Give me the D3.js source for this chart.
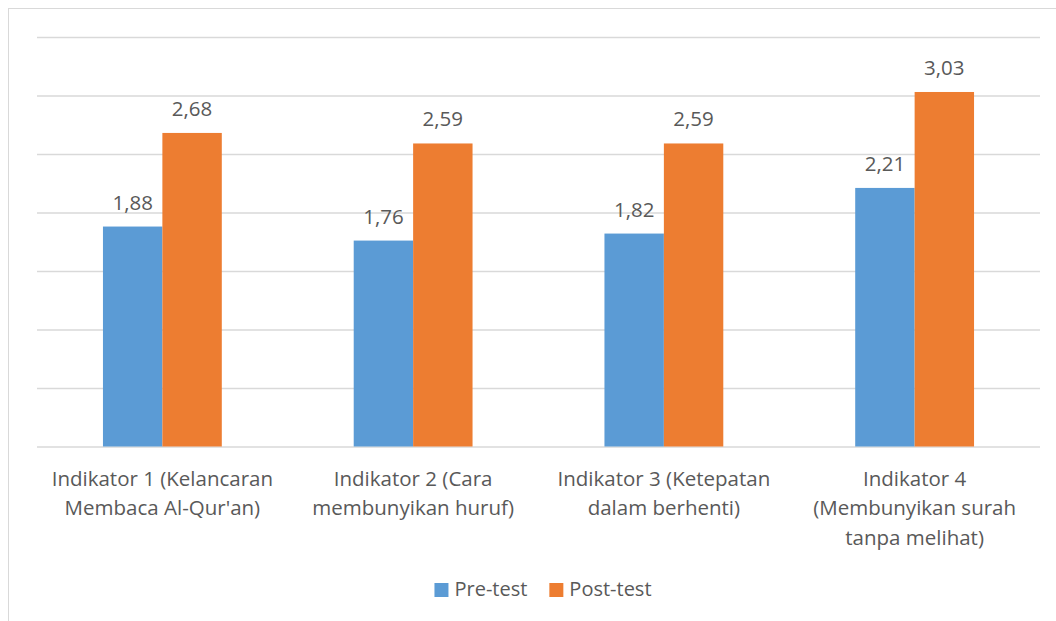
<!DOCTYPE html>
<html>
<head>
	<meta charset="utf-8">
	<title>Pre-test vs Post-test</title>
</head>

<style>
	body { margin:0; background:#fff; }
	svg text { font-family:"Open Sans", sans-serif; fill:#595959; }
</style>

<body>
<script src="https://d3js.org/d3.v7.min.js" charset="utf-8"></script>
<svg width="1056" height="621"></svg>
<script>

	// data
	var categories = ["Indikator 1", "Indikator 2", "Indikator 3", "Indikator 4"];
	var categoryLines = [
		["Indikator 1 (Kelancaran", "Membaca Al-Qur'an)"],
		["Indikator 2 (Cara", "membunyikan huruf)"],
		["Indikator 3 (Ketepatan", "dalam berhenti)"],
		["Indikator 4", "(Membunyikan surah", "tanpa melihat)"]
	];
	var seriesNames = ["Pre-test", "Post-test"];
	var preTest = [1.88, 1.76, 1.82, 2.21];
	var postTest = [2.68, 2.59, 2.59, 3.03];
	var yTicks = [0, 0.5, 1, 1.5, 2, 2.5, 3, 3.5];

	var colors = ["#5B9BD5", "#ED7D31"];
	var fmt = function(v){ return d3.format(".2f")(v).replace(".", ","); };

	var svg = d3.select("svg");
	var margin = {top:37, left:37, right:16, bottom:174.5};
	var width = +svg.attr("width") - margin.left - margin.right;
	var height = +svg.attr("height") - margin.top - margin.bottom;

	// chart area border
	svg.append("rect")
	   .attr("x", 8.5).attr("y", 8.5)
	   .attr("width", 1100).attr("height", 700)
	   .attr("fill", "none")
	   .attr("stroke", "#D9D9D9");

	var g = svg.append("g")
			   .attr("transform", "translate(" + margin.left + "," + margin.top + ")");

	var x0 = d3.scaleBand()
			   .domain(categories)
			   .range([0, width])
			   .padding(0);

	var x1 = d3.scaleBand()
			   .domain(seriesNames)
			   .range([0, x0.bandwidth()])
			   .paddingInner(0)
			   .paddingOuter(1.11);

	var y = d3.scaleLinear()
			  .domain([0, 3.5])
			  .range([height, 0]);

	// gridlines
	var grid = g.append("g")
				.attr("class", "grid")
				.call(d3.axisLeft(y).tickValues(yTicks).tickSize(-width).tickFormat(""));
	grid.select(".domain").remove();
	grid.selectAll("line").attr("stroke", "#D9D9D9").attr("stroke-width", 1.3);

	var rows = categories.map(function(c, i){
		return {cat:c, values:[preTest[i], postTest[i]]};
	});

	var groups = g.append("g").selectAll("g")
				  .data(rows)
				  .enter()
				  .append("g")
				  .attr("transform", function(d){ return "translate(" + x0(d.cat) + ",0)"; });

	groups.selectAll("rect")
		  .data(function(d){ return d.values.map(function(v, i){ return {s:seriesNames[i], v:v, i:i}; }); })
		  .enter()
		  .append("rect")
		  .attr("x", function(d){ return x1(d.s); })
		  .attr("width", x1.bandwidth())
		  .attr("y", function(d){ return y(d.v); })
		  .attr("height", function(d){ return y(0) - y(d.v); })
		  .attr("fill", function(d){ return colors[d.i]; });

	groups.selectAll("text.val")
		  .data(function(d){ return d.values.map(function(v, i){ return {s:seriesNames[i], v:v, i:i}; }); })
		  .enter()
		  .append("text")
		  .attr("class", "val")
		  .attr("x", function(d){ return x1(d.s) + x1.bandwidth() / 2; })
		  .attr("y", function(d){ return y(d.v) - 17; })
		  .attr("text-anchor", "middle")
		  .style("font-size", "20.5px")
		  .text(function(d){ return fmt(d.v); });

	// category axis
	var xAxis = g.append("g")
				 .attr("transform", "translate(0," + height + ")")
				 .call(d3.axisBottom(x0).tickSize(0).tickFormat(""));
	xAxis.select(".domain").remove();

	xAxis.selectAll(".tick text").remove();
	xAxis.selectAll(".tick")
		 .append("text")
		 .attr("text-anchor", "middle")
		 .style("font-size", "20.5px")
		 .each(function(d, i){
			var t = d3.select(this);
			categoryLines[i].forEach(function(line, k){
				t.append("tspan")
				 .attr("x", 0)
				 .attr("y", 39 + k * 29.7)
				 .text(line);
			});
		 });

	// legend
	var legend = svg.append("g").attr("class", "legend");
	var items = legend.selectAll("g")
					  .data(seriesNames)
					  .enter()
					  .append("g");
	items.append("rect")
		 .attr("width", 14).attr("height", 14)
		 .attr("y", -13)
		 .attr("fill", function(d, i){ return colors[i]; });
	items.append("text")
		 .attr("x", 20)
		 .style("font-size", "20px")
		 .text(function(d){ return d; });

	var offs = [], pos = 0;
	items.each(function(){
		offs.push(pos);
		pos += this.getBBox().width + 22;
	});
	var total = pos - 22;
	var startX = 543 - total / 2;
	items.attr("transform", function(d, i){ return "translate(" + (startX + offs[i]) + ",596)"; });

</script>
</body>
</html>
